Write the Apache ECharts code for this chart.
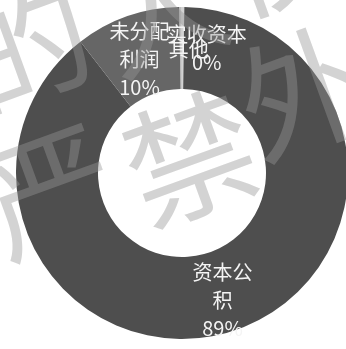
<!DOCTYPE html>
<html>
<head>
<meta charset="utf-8">
<script src="https://cdn.jsdelivr.net/npm/echarts@6/dist/echarts.min.js"></script>
<style>
html,body{margin:0;padding:0;background:#fff;}
#c{width:346px;height:349px;}
</style>
</head>
<body>
<div id="c"></div>
<script>
// Data
var categories = ['实收资本', '其他', '资本公积', '未分配利润'];
var values = [0.25, 0.25, 89.3, 10.2];
var colors = ['#bdbdbd', '#d2d2d2', '#4e4e4e', '#666666'];
var watermarkChars = ['严', '禁', '外', '的', '人', '使'];

var labelWidths = [100, 60, 64, 64];
var labelShift = [[26, 3], [6, 4], [0, 6], [0, 7]];
var showPercent = [true, false, true, true];

var chart = echarts.init(document.getElementById('c'), null, {renderer: 'canvas'});

var data = categories.map(function (n, i) {
  return {
    name: n,
    value: values[i],
    itemStyle: {color: colors[i]},
    label: {width: labelWidths[i]}
  };
});

var wmPos = [[50, 190], [190, 158], [303, 92], [25, 45], [160, 8], [280, -52]];
var graphics = watermarkChars.map(function (ch, i) {
  return {
    type: 'text',
    x: wmPos[i][0],
    y: wmPos[i][1],
    rotation: 20 * Math.PI / 180,
    z: 100,
    silent: true,
    style: {
      text: ch,
      fontSize: 130,
      fontFamily: 'Noto Sans CJK SC',
      fill: 'rgba(150,150,150,0.42)',
      align: 'center',
      verticalAlign: 'middle'
    }
  };
});

chart.setOption({
  animation: false,
  backgroundColor: '#ffffff',
  graphic: graphics,
  series: [{
    type: 'pie',
    center: [182, 173],
    radius: [84, 166],
    startAngle: 91,
    clockwise: true,
    avoidLabelOverlap: false,
    data: data,
    label: {
      show: true,
      position: 'inside',
      color: '#f4f4f4',
      fontSize: 20,
      lineHeight: 28,
      fontFamily: 'Noto Sans CJK SC',
      overflow: 'break',
      formatter: function (p) {
        return showPercent[p.dataIndex] ? p.name + '\n' + Math.round(p.percent) + '%' : p.name;
      }
    },
    labelLine: {show: false},
    labelLayout: function (p) {
      var s = labelShift[p.dataIndex];
      return {dx: s[0], dy: s[1]};
    },
    emphasis: {disabled: true}
  }]
});
</script>
</body>
</html>
